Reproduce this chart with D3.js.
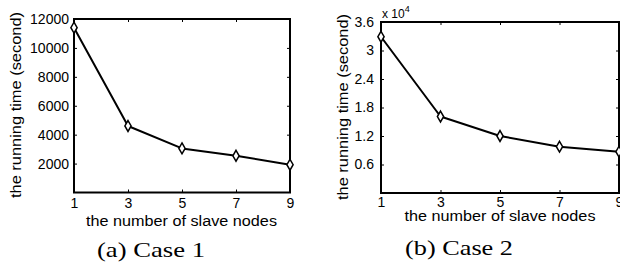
<!DOCTYPE html>
<html>
<head>
<meta charset="utf-8">
<script src="https://cdn.jsdelivr.net/npm/d3@7"></script>
<style>
  body { margin: 0; background: #fff; }
  svg { display: block; }
  text { font-family: "Liberation Sans", Arial, sans-serif; fill: #000; }
  text.caption { font-family: "Liberation Serif", "DejaVu Serif", serif; }
</style>
</head>
<body>
<script>
// nodes on the x axis
const slaveNodes = [1, 3, 5, 7, 9];

// case 1 running time (second)
const case1Time = [11400, 4600, 3050, 2540, 1920];
const case1Ticks = [2000, 4000, 6000, 8000, 10000, 12000];

// case 2 running time (x 10^4 second)
const case2Time = [3.29, 1.61, 1.2, 0.975, 0.87];
const case2Ticks = [0.6, 1.2, 1.8, 2.4, 3.0, 3.6];

const width = 620, height = 266;

const svg = d3.select('body').append('svg')
    .attr('width', width)
    .attr('height', height);

function drawPanel(p) {
    const X = d3.scaleLinear().domain([1, 9]).range([p.left, p.right]);
    const Y = d3.scaleLinear().domain([0, p.ymax]).range([p.bottom, p.top]);
    const g = svg.append('g');

    // ticks inside the box, all four sides
    g.append('g').attr('transform', `translate(0 ${p.bottom})`)
        .call(d3.axisBottom(X).tickValues(slaveNodes).tickSize(-3).tickPadding(p.xpad))
        .call(a => a.select('.domain').remove())
        .call(a => a.selectAll('text').attr('font-size', 14).attr('font-family', null));
    g.append('g').attr('transform', `translate(0 ${p.top})`)
        .call(d3.axisTop(X).tickValues(slaveNodes).tickSize(-3).tickFormat(''))
        .call(a => a.select('.domain').remove());
    g.append('g').attr('transform', `translate(${p.left} 0)`)
        .call(d3.axisLeft(Y).tickValues(p.ticks).tickSize(-3).tickPadding(p.ypad).tickFormat(p.fmt))
        .call(a => a.select('.domain').remove())
        .call(a => a.selectAll('text').attr('font-size', 14).attr('font-family', null));
    g.append('g').attr('transform', `translate(${p.right} 0)`)
        .call(d3.axisRight(Y).tickValues(p.ticks).tickSize(-3).tickFormat(''))
        .call(a => a.select('.domain').remove());

    g.append('rect')
        .attr('x', p.left).attr('y', p.top)
        .attr('width', p.right - p.left).attr('height', p.bottom - p.top)
        .attr('fill', 'none').attr('stroke', '#000').attr('stroke-width', 2);

    const line = d3.line().x((d, i) => X(slaveNodes[i])).y(d => Y(d));
    g.append('path')
        .attr('d', line(p.values))
        .attr('fill', 'none').attr('stroke', '#000').attr('stroke-width', 2)
        .attr('stroke-linejoin', 'round');

    const diamond = d3.symbol().type(d3.symbolDiamond).size(34);
    g.selectAll('.mk').data(p.values).join('path')
        .attr('class', 'mk')
        .attr('transform', (d, i) => `translate(${X(slaveNodes[i])} ${Y(d)})`)
        .attr('d', diamond)
        .attr('fill', '#fff').attr('stroke', '#000').attr('stroke-width', 1.5);

    g.append('text')
        .attr('transform', `translate(${p.ytitleX} ${p.ytitleY}) rotate(-90)`)
        .attr('text-anchor', 'middle').attr('dy', '0.35em')
        .attr('font-size', 15)
        .attr('textLength', 186).attr('lengthAdjust', 'spacingAndGlyphs')
        .text('the running time (second)');

    g.append('text')
        .attr('x', p.xtitleX).attr('y', p.xtitleY)
        .attr('text-anchor', 'middle').attr('dy', '0.35em')
        .attr('font-size', 14)
        .attr('textLength', 191).attr('lengthAdjust', 'spacingAndGlyphs')
        .text('the number of slave nodes');

    g.append('text')
        .attr('class', 'caption')
        .attr('x', p.captionX).attr('y', p.captionY)
        .attr('text-anchor', 'middle').attr('dy', '0.35em')
        .attr('font-size', 21)
        .attr('textLength', 108).attr('lengthAdjust', 'spacingAndGlyphs')
        .text(p.caption);

    if (p.exponent) {
        const t = g.append('text')
            .attr('x', p.left + 1).attr('y', p.top - 4)
            .attr('font-size', 12);
        t.append('tspan').text('x 10');
        t.append('tspan').attr('dy', -6).attr('font-size', 9).text(p.exponent);
    }
}

drawPanel({
    left: 74, right: 290, top: 19, bottom: 192.5,
    ymax: 12000, values: case1Time, ticks: case1Ticks, fmt: d3.format('d'),
    xpad: 6, ypad: 5,
    ytitleX: 16, ytitleY: 105, xtitleX: 181.5, xtitleY: 221,
    captionX: 151, captionY: 250, caption: '(a) Case 1'
});

drawPanel({
    left: 381, right: 619, top: 22, bottom: 193,
    ymax: 3.6, values: case2Time, ticks: case2Ticks, fmt: d => d === 3 ? '3' : d3.format('.1f')(d),
    xpad: 4, ypad: 7,
    ytitleX: 343, ytitleY: 107, xtitleX: 500, xtitleY: 216,
    captionX: 459, captionY: 248, caption: '(b) Case 2', exponent: '4'
});
</script>
</body>
</html>
